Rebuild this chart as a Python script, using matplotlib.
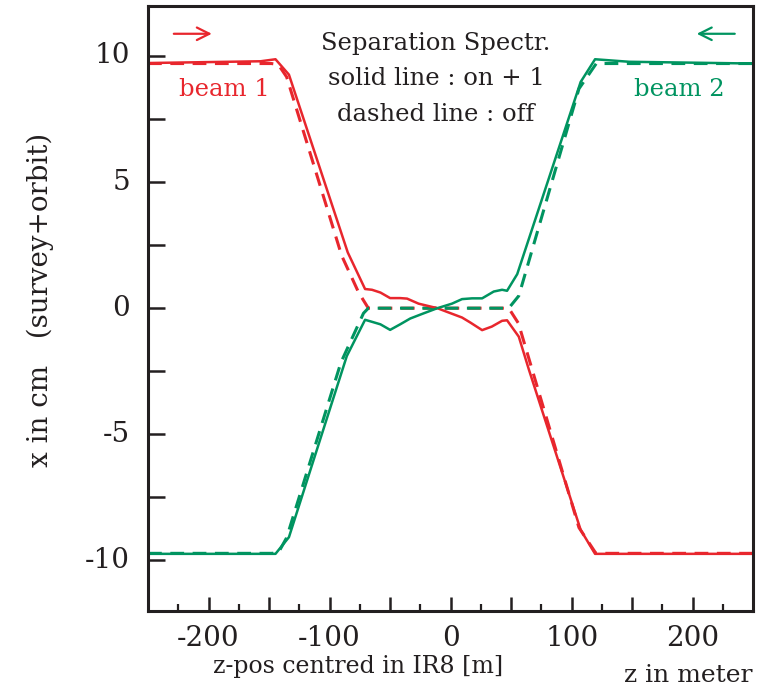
import matplotlib
matplotlib.use('Agg')
import matplotlib.pyplot as plt
from matplotlib.ticker import MultipleLocator

plt.rcParams['font.family'] = ['DejaVu Serif']

RED = '#e8262d'
GREEN = '#009460'
INK = '#231f20'

# beam 1, separation spectrometer on
z_b1_on = [-250, -157, -144.7, -133.6, -85, -70.7, -65, -58, -50, -41.7, -36, -26.5,
           -11, -1.7, 9.4, 16.3, 26, 34, 42.5, 46.6, 56.3, 64.6, 107.4, 119.3, 250]
x_b1_on = [9.72, 9.79, 9.87, 9.26, 2.21, 0.76, 0.73, 0.62, 0.40, 0.40, 0.38, 0.18,
           0.0, -0.17, -0.37, -0.57, -0.87, -0.73, -0.50, -0.48, -1.13, -2.43, -8.79, -9.74, -9.74]

# beam 1, spectrometer off
z_b1_off = [-250, -148, -142.4, -135.5, -90, -76, -68, 48, 56, 106, 120, 250]
x_b1_off = [9.70, 9.70, 9.66, 9.17, 2.08, 0.62, 0.0, 0.0, -0.60, -8.70, -9.72, -9.72]

# beam 2, spectrometer on
z_b2_on = [-250, -144.7, -133.6, -85.8, -70.7, -65, -58, -50, -41.7, -33.4, -23.7,
           -11, 1.1, 9.4, 17.7, 26, 35.6, 42.5, 46.6, 55, 107.4, 119.3, 147.4, 250]
x_b2_on = [-9.74, -9.74, -9.08, -1.90, -0.46, -0.54, -0.64, -0.86, -0.64, -0.41, -0.23,
           0.0, 0.18, 0.36, 0.39, 0.39, 0.66, 0.73, 0.69, 1.35, 8.97, 9.87, 9.77, 9.70]

# beam 2, spectrometer off
z_b2_off = [-250, -148, -142.4, -135.5, -90.7, -72, -68, 48, 56.3, 106, 120.3, 250]
x_b2_off = [-9.72, -9.72, -9.70, -9.10, -2.16, -0.20, 0.0, 0.0, 0.49, 8.70, 9.70, 9.70]

fig = plt.figure(figsize=(7.71, 6.91), dpi=100)
ax = fig.add_axes([0.192, 0.116, 0.785, 0.876])

ax.plot(z_b1_off, x_b1_off, color=RED, lw=2.2, ls=(0, (4.5, 2.8)))
ax.plot(z_b2_off, x_b2_off, color=GREEN, lw=2.2, ls=(0, (4.5, 2.8)))
ax.plot(z_b1_on, x_b1_on, color=RED, lw=1.8)
ax.plot(z_b2_on, x_b2_on, color=GREEN, lw=1.8)

ax.set_xlim(-250, 250)
ax.set_ylim(-12, 12)

ax.xaxis.set_major_locator(MultipleLocator(50))
ax.xaxis.set_minor_locator(MultipleLocator(25))
ax.yaxis.set_major_locator(MultipleLocator(2.5))
ax.set_xticklabels([])
ax.set_yticklabels([])
ax.tick_params(which='major', direction='in', length=10, width=1.8, color=INK)
ax.tick_params(axis='x', which='minor', direction='in', length=5, width=1.6, color=INK)
ax.tick_params(axis='y', which='major', length=12)

for v in [-200, -100, 0, 100, 200]:
    ax.text(v, -13.1, str(v), ha='center', va='center', fontsize=20, color=INK)
for v in [-10, -5, 0, 5, 10]:
    ax.text(-265, v, str(v), ha='right', va='center', fontsize=20, color=INK)

for s in ax.spines.values():
    s.set_linewidth(2.2)
    s.set_color(INK)

ax.text(-12, 10.48, 'Separation Spectr.', ha='center', va='center', fontsize=17.5, color=INK)
ax.text(-12, 9.12, 'solid line : on + 1', ha='center', va='center', fontsize=17.5, color=INK)
ax.text(-12, 7.68, 'dashed line : off', ha='center', va='center', fontsize=17.5, color=INK)

ax.text(-187, 8.68, 'beam 1', ha='center', va='center', fontsize=17.5, color=RED)
ax.text(189, 8.68, 'beam 2', ha='center', va='center', fontsize=17.5, color=GREEN)

ax.annotate('', xy=(-195, 10.88), xytext=(-231, 10.88),
            arrowprops=dict(arrowstyle='->,head_length=0.9,head_width=0.45', color=RED, lw=1.6))
ax.annotate('', xy=(201, 10.88), xytext=(237, 10.88),
            arrowprops=dict(arrowstyle='->,head_length=0.9,head_width=0.45', color=GREEN, lw=1.6))

fig.text(0.464, 0.036, 'z-pos centred in IR8 [m]', ha='center', va='center', fontsize=17, color=INK)
fig.text(0.893, 0.022, 'z in meter', ha='center', va='center', fontsize=18, color=INK)
fig.text(0.052, 0.566, 'x in cm   (survey+orbit)', ha='center', va='center', rotation=90,
         fontsize=20, color=INK)

fig.savefig('out.png', dpi=100)
